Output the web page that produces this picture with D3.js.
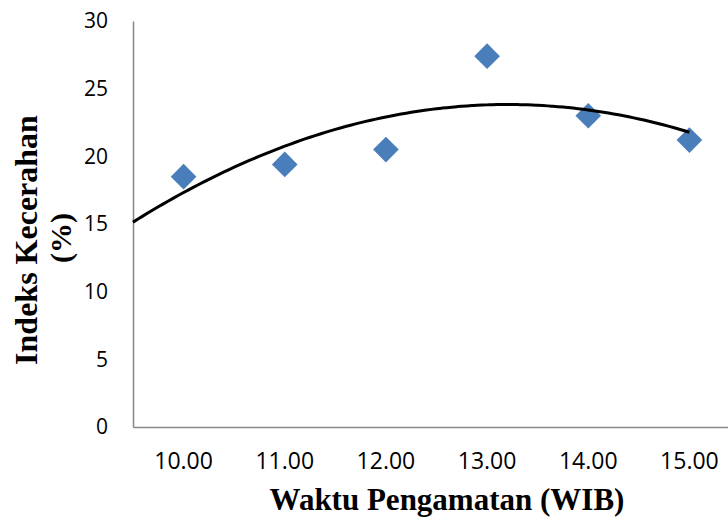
<!DOCTYPE html>
<html>
<head>
<meta charset="utf-8">
<script src="https://cdn.jsdelivr.net/npm/d3@7"></script>
<style>
  body { margin: 0; background: #fff; }
  .tick-label { font-family: "Open Sans", sans-serif; fill: #000; }
  .title { font-family: "Liberation Serif", "Times New Roman", serif; font-weight: bold; fill: #000; }
</style>
</head>
<body>
<script>
// data
var hours = ["10.00", "11.00", "12.00", "13.00", "14.00", "15.00"];
var brightness = [18.5, 19.4, 20.5, 27.4, 23.0, 21.2];
var yTicks = [0, 5, 10, 15, 20, 25, 30];

var width = 728, height = 520;
var margin = { top: 21, right: -12, bottom: 93, left: 133 };

var svg = d3.select("body").append("svg")
  .attr("width", width)
  .attr("height", height);

var x = d3.scaleBand()
  .domain(hours)
  .range([margin.left, width - margin.right]);

var y = d3.scaleLinear()
  .domain([0, 30])
  .range([height - margin.bottom, margin.top]);

// position on the category axis for a fractional index (1 = first category)
var xPos = function (i) {
  return margin.left + (i - 0.5) * x.step();
};

// 2nd order polynomial trendline, least squares on index 1..n
function polyFit(ys) {
  var n = ys.length, s = [0, 0, 0, 0, 0], t = [0, 0, 0];
  ys.forEach(function (v, k) {
    var xi = k + 1;
    for (var p = 0; p < 5; p++) s[p] += Math.pow(xi, p);
    for (var q = 0; q < 3; q++) t[q] += v * Math.pow(xi, q);
  });
  var m = [[s[0], s[1], s[2], t[0]], [s[1], s[2], s[3], t[1]], [s[2], s[3], s[4], t[2]]];
  for (var i = 0; i < 3; i++) {
    for (var r = i + 1; r < 3; r++) {
      var f = m[r][i] / m[i][i];
      for (var c = i; c < 4; c++) m[r][c] -= f * m[i][c];
    }
  }
  var coef = [0, 0, 0];
  for (var i2 = 2; i2 >= 0; i2--) {
    var sum = m[i2][3];
    for (var c2 = i2 + 1; c2 < 3; c2++) sum -= m[i2][c2] * coef[c2];
    coef[i2] = sum / m[i2][i2];
  }
  return function (xv) { return coef[0] + coef[1] * xv + coef[2] * xv * xv; };
}

var fit = polyFit(brightness);
var trendPts = d3.range(0.5, hours.length + 0.001, 0.05);

// axes (no tick marks, grey lines)
var yAxis = d3.axisLeft(y).tickValues(yTicks).tickSize(0).tickPadding(25);
var gy = svg.append("g")
  .attr("transform", "translate(" + margin.left + ",0)")
  .call(yAxis);
gy.select(".domain").attr("stroke", "#888").attr("stroke-width", 1.5);
gy.selectAll("text").attr("class", "tick-label").style("font-size", "21px");

var xAxis = d3.axisBottom(x).tickSize(0).tickPadding(26);
var gx = svg.append("g")
  .attr("transform", "translate(0," + (height - margin.bottom) + ")")
  .call(xAxis);
gx.select(".domain").attr("stroke", "#888").attr("stroke-width", 1.5);
gx.selectAll("text").attr("class", "tick-label").style("font-size", "23px");

// markers
var diamond = d3.symbol().type(d3.symbolDiamond2).size(420);
svg.selectAll(".pt")
  .data(brightness).enter()
  .append("path")
  .attr("class", "pt")
  .attr("d", diamond)
  .attr("fill", "#4A7EBB")
  .attr("transform", function (d, i) {
    return "translate(" + (x(hours[i]) + x.bandwidth() / 2) + "," + y(d) + ")";
  });

// trendline
var line = d3.line()
  .x(function (d) { return xPos(d); })
  .y(function (d) { return y(fit(d)); })
  .curve(d3.curveBasis);
svg.append("path")
  .datum(trendPts)
  .attr("d", line)
  .attr("fill", "none")
  .attr("stroke", "#000")
  .attr("stroke-width", 3);

// titles
svg.append("text")
  .attr("class", "title")
  .attr("x", 447)
  .attr("y", 510)
  .attr("text-anchor", "middle")
  .style("font-size", "31px")
  .text("Waktu Pengamatan (WIB)");

svg.append("text")
  .attr("class", "title")
  .attr("transform", "translate(37,240) rotate(-90)")
  .attr("text-anchor", "middle")
  .style("font-size", "32px")
  .text("Indeks Kecerahan");

svg.append("text")
  .attr("class", "title")
  .attr("transform", "translate(71,238) rotate(-90)")
  .attr("text-anchor", "middle")
  .style("font-size", "30px")
  .text("(%)");
</script>
</body>
</html>
